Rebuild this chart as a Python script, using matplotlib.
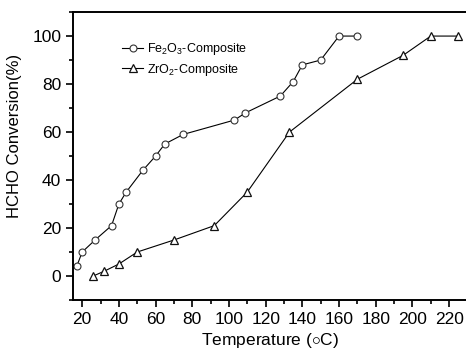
import matplotlib
matplotlib.use("Agg")
import matplotlib.pyplot as plt
from matplotlib.ticker import MultipleLocator

plt.rcParams['font.family'] = ['Liberation Sans', 'DejaVu Sans']
plt.rcParams['mathtext.fontset'] = 'custom'
plt.rcParams['mathtext.rm'] = 'Liberation Sans'
plt.rcParams['mathtext.it'] = 'Liberation Sans'

# Fe2O3-Composite
fe_temp = [17, 20, 27, 36, 40, 44, 53, 60, 65, 75, 103, 109, 128, 135, 140, 150, 160, 170]
fe_conv = [4, 10, 15, 21, 30, 35, 44, 50, 55, 59, 65, 68, 75, 81, 88, 90, 100, 100]

# ZrO2-Composite
zr_temp = [26, 32, 40, 50, 70, 92, 110, 133, 170, 195, 210, 225]
zr_conv = [0, 2, 5, 10, 15, 21, 35, 60, 82, 92, 100, 100]

fig = plt.figure(figsize=(4.66, 3.52), dpi=100)
ax = fig.add_axes([0.1567, 0.1477, 0.8464, 0.818])

ax.plot(fe_temp, fe_conv, '-o', color='black', lw=0.8, ms=5,
        mfc='white', mec='#333333', mew=0.8, label='Fe$_2$O$_3$-Composite')
ax.plot(zr_temp, zr_conv, '-^', color='black', lw=0.8, ms=6,
        mfc='white', mec='#111111', mew=0.9, label='ZrO$_2$-Composite')

ax.set_xlim(15, 230)
ax.set_ylim(-10, 110)
ax.xaxis.set_major_locator(MultipleLocator(20))
ax.xaxis.set_minor_locator(MultipleLocator(10))
ax.yaxis.set_major_locator(MultipleLocator(20))
ax.yaxis.set_minor_locator(MultipleLocator(10))
ax.tick_params(which='both', direction='out', width=1.2, labelsize=12.5)
ax.tick_params(which='major', length=5)
ax.tick_params(which='minor', length=3)
for s in ax.spines.values():
    s.set_linewidth(1.4)

ax.set_xlabel(r'Temperature ($\circ$C)', fontsize=12.5, labelpad=3)
ax.set_ylabel('HCHO Conversion(%)', fontsize=12)
ax.yaxis.set_label_coords(-0.13, 0.57)

ax.legend(loc='upper left', bbox_to_anchor=(0.124, 0.898), frameon=False,
          fontsize=9, handlelength=1.7, handletextpad=0.3, labelspacing=0.35,
          borderaxespad=0, borderpad=0)

fig.savefig('out.png', dpi=100)
